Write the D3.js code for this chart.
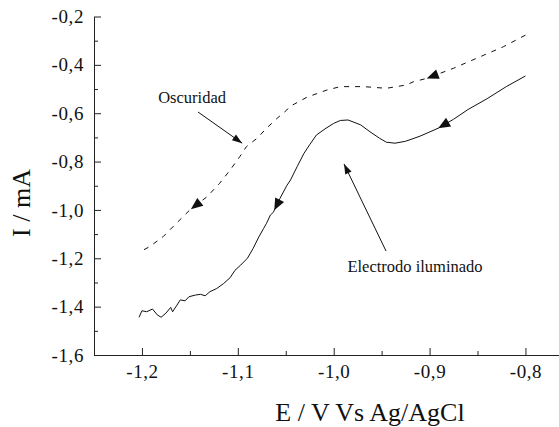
<!DOCTYPE html>
<html>
<head>
<meta charset="utf-8">
<script src="https://cdn.jsdelivr.net/npm/d3@7"></script>
<style>
  body { margin: 0; background: #fff; }
</style>
</head>
<body>
<div id="chart"></div>
<script>
// potential (V) and current (mA), scan goes from -0.8 towards -1.2
const darkE = [-0.800, -0.823, -0.847, -0.875, -0.903, -0.917, -0.924, -0.945, -0.969, -0.993, -1.007, -1.028,
    -1.046, -1.049, -1.059, -1.070, -1.080, -1.091, -1.098, -1.108, -1.119, -1.132, -1.150, -1.164, -1.178, -1.192, -1.202];
const darkI = [-0.277, -0.325, -0.366, -0.414, -0.456, -0.470, -0.483, -0.497, -0.490, -0.490, -0.504, -0.534,
    -0.573, -0.587, -0.621, -0.662, -0.704, -0.738, -0.780, -0.835, -0.890, -0.945, -1.000, -1.055, -1.111, -1.152, -1.173];

const lightE = [-0.800, -0.820, -0.840, -0.860, -0.875, -0.891, -0.910, -0.925, -0.936, -0.945, -0.952, -0.962,
    -0.972, -0.985, -0.993, -1.000, -1.008, -1.018, -1.025, -1.031, -1.038, -1.045, -1.049, -1.056, -1.063, -1.066,
    -1.070, -1.073, -1.078, -1.084, -1.090, -1.097, -1.103, -1.108, -1.115, -1.122, -1.129, -1.134, -1.139, -1.144,
    -1.151, -1.155, -1.160, -1.164, -1.168, -1.170, -1.175, -1.180, -1.184, -1.189, -1.195, -1.200, -1.203];
const lightI = [-0.446, -0.490, -0.540, -0.585, -0.625, -0.662, -0.695, -0.716, -0.724, -0.720, -0.704, -0.677,
    -0.648, -0.628, -0.630, -0.642, -0.662, -0.690, -0.730, -0.766, -0.820, -0.876, -0.900, -0.952, -1.010, -1.021,
    -1.055, -1.076, -1.111, -1.159, -1.200, -1.228, -1.250, -1.280, -1.305, -1.325, -1.338, -1.355, -1.349, -1.352,
    -1.359, -1.376, -1.372, -1.397, -1.421, -1.403, -1.427, -1.444, -1.434, -1.410, -1.421, -1.417, -1.444];

// where the direction arrows sit on each curve
const darkArrows = [-0.903, -1.149];
const lightArrows = [-0.891, -1.062];

const xTicks = [-1.2, -1.1, -1.0, -0.9, -0.8];
const xMinor = [-1.15, -1.05, -0.95, -0.85];
const yTicks = [-1.6, -1.4, -1.2, -1.0, -0.8, -0.6, -0.4, -0.2];
const yMinor = [-1.5, -1.3, -1.1, -0.9, -0.7, -0.5, -0.3];

const fmt = d => d.toFixed(1).replace('.', ',');
const serif = '"Liberation Serif", "Times New Roman", Times, serif';

const W = 559, H = 427;
const svg = d3.select('#chart').append('svg')
    .attr('width', W)
    .attr('height', H)
    .style('font-family', serif);

const x = d3.scaleLinear().domain([-1.25, -0.765]).range([94, 559]);
const y = d3.scaleLinear().domain([-1.6, -0.2]).range([355, 16.5]);

// axes, ticks point inwards
const xAxis = svg.append('g')
    .attr('transform', `translate(0,${y(-1.6)})`)
    .call(d3.axisBottom(x).tickValues(xTicks).tickSizeInner(-7).tickSizeOuter(0).tickPadding(10).tickFormat(fmt));

svg.append('g')
    .attr('transform', `translate(0,${y(-1.6)})`)
    .call(d3.axisBottom(x).tickValues(xMinor).tickSizeInner(-4).tickSizeOuter(0).tickFormat(''))
    .call(g => g.select('.domain').remove());

const yAxis = svg.append('g')
    .attr('transform', `translate(${x(-1.25)},0)`)
    .call(d3.axisLeft(y).tickValues(yTicks).tickSizeInner(-7).tickSizeOuter(0).tickPadding(10).tickFormat(fmt));

svg.append('g')
    .attr('transform', `translate(${x(-1.25)},0)`)
    .call(d3.axisLeft(y).tickValues(yMinor).tickSizeInner(-4).tickSizeOuter(0).tickFormat(''))
    .call(g => g.select('.domain').remove());

svg.selectAll('g').attr('font-family', null);
[xAxis, yAxis].forEach(a => a.selectAll('text')
    .style('font-family', serif)
    .style('font-size', '19px')
    .style('letter-spacing', '0.6px')
    .attr('fill', '#111'));

svg.selectAll('.domain, .tick line').attr('stroke', '#222').attr('stroke-width', 1);

// axis titles
svg.append('text')
    .attr('x', 370)
    .attr('y', 421)
    .attr('text-anchor', 'middle')
    .style('font-family', serif)
    .style('font-size', '26px')
    .attr('fill', '#111')
    .text('E / V Vs Ag/AgCl');

svg.append('text')
    .attr('transform', `translate(30,${203}) rotate(-90)`)
    .attr('text-anchor', 'middle')
    .style('font-family', serif)
    .style('font-size', '26px')
    .attr('fill', '#111')
    .text('I / mA');

// curves
const line = d3.line()
    .x(d => x(d[0]))
    .y(d => y(d[1]));

const dark = darkE.map((e, i) => [e, darkI[i]]);
const light = lightE.map((e, i) => [e, lightI[i]]);

svg.append('path')
    .datum(dark)
    .attr('d', line)
    .attr('fill', 'none')
    .attr('stroke', '#111')
    .attr('stroke-width', 1)
    .attr('stroke-dasharray', '5,6');

svg.append('path')
    .datum(light)
    .attr('d', line)
    .attr('fill', 'none')
    .attr('stroke', '#111')
    .attr('stroke-width', 1);

// interpolate a point on a curve at a given potential
function pointAt(data, e) {
    for (let i = 0; i < data.length - 1; i++) {
        const a = data[i], b = data[i + 1];
        if (e <= a[0] && e >= b[0]) {
            const t = (a[0] - e) / (a[0] - b[0]);
            return [a[0] + (b[0] - a[0]) * t, a[1] + (b[1] - a[1]) * t];
        }
    }
    return data[data.length - 1];
}

function arrowHead(px, py, angle, len, half) {
    return svg.append('path')
        .attr('d', `M0,0 L${-len},${-half} L${-len},${half} Z`)
        .attr('fill', '#111')
        .attr('transform', `translate(${px},${py}) rotate(${angle * 180 / Math.PI})`);
}

function curveArrows(data, list) {
    list.forEach(e => {
        const p = pointAt(data, e);
        const q = pointAt(data, e + 0.012);
        const ang = Math.atan2(y(p[1]) - y(q[1]), x(p[0]) - x(q[0]));
        arrowHead(x(p[0]), y(p[1]), ang, 12, 5);
    });
}
curveArrows(dark, darkArrows);
curveArrows(light, lightArrows);

// annotations
const notes = [
    { label: 'Oscuridad', tx: -1.1477, ty: -0.558, from: [-1.1415, -0.595], to: [-1.0955, -0.724] },
    { label: 'Electrodo iluminado', tx: -0.9152, ty: -1.255, from: [-0.9454, -1.17], to: [-0.9892, -0.81] }
];

notes.forEach(n => {
    svg.append('text')
        .attr('x', x(n.tx))
        .attr('y', y(n.ty))
        .attr('text-anchor', 'middle')
        .style('font-family', serif)
        .style('font-size', '16.5px')
        .attr('fill', '#111')
        .text(n.label);
    const x1 = x(n.from[0]), y1 = y(n.from[1]), x2 = x(n.to[0]), y2 = y(n.to[1]);
    svg.append('line')
        .attr('x1', x1).attr('y1', y1)
        .attr('x2', x2).attr('y2', y2)
        .attr('stroke', '#111')
        .attr('stroke-width', 1);
    arrowHead(x2, y2, Math.atan2(y2 - y1, x2 - x1), 10, 3.5);
});
</script>
</body>
</html>
